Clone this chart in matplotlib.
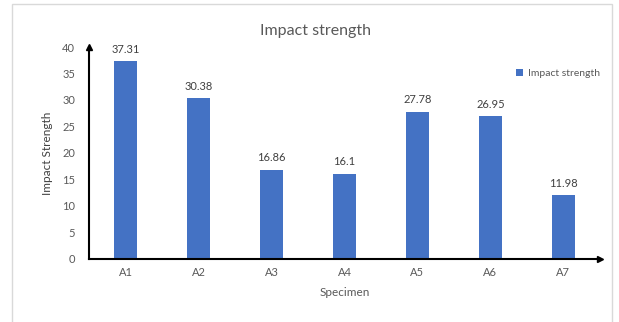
import matplotlib.pyplot as plt
from matplotlib.patches import Rectangle

# impact test results per specimen
specimens = ["A1", "A2", "A3", "A4", "A5", "A6", "A7"]
impact = [37.31, 30.38, 16.86, 16.1, 27.78, 26.95, 11.98]
value_labels = ["37.31", "30.38", "16.86", "16.1", "27.78", "26.95", "11.98"]
yticks = [0, 5, 10, 15, 20, 25, 30, 35, 40]

plt.rcParams['font.family'] = ['Lato', 'DejaVu Sans']
grey = "#595959"

fig = plt.figure(figsize=(6.19, 3.22), dpi=100)
ax = fig.add_axes([0.144, 0.196, 0.825, 0.658])

# light frame around the chart area
fig.patches.append(Rectangle((12 / 619, -0.01), 600 / 619, 1 - 4 / 322 + 0.01,
                             transform=fig.transFigure, fill=False,
                             edgecolor="#d9d9d9", linewidth=1))

x = range(len(specimens))
bars = ax.bar(x, impact, width=0.32, color="#4472C4", label="Impact strength")
for b, txt in zip(bars, value_labels):
    ax.text(b.get_x() + b.get_width() / 2, b.get_height() + 1.2, txt,
            ha="center", va="bottom", fontsize=8, color="#404040")

ax.set_xlim(-0.5, 6.5)
ax.set_ylim(0, 40)
ax.set_xticks(list(x))
ax.set_xticklabels(specimens)
ax.set_yticks(yticks)
ax.tick_params(axis="both", length=0, labelsize=8, labelcolor=grey)
ax.tick_params(axis="y", pad=10)
ax.tick_params(axis="x", pad=6)

for s in ["top", "right"]:
    ax.spines[s].set_visible(False)
for s in ["left", "bottom"]:
    ax.spines[s].set_linewidth(1.5)
    ax.spines[s].set_color("black")

# arrow heads on the axes
ax.plot(1, 0, ">k", markersize=5, transform=ax.transAxes, clip_on=False)
ax.plot(0, 1, "^k", markersize=5, transform=ax.transAxes, clip_on=False)

ax.set_xlabel("Specimen", fontsize=8.5, color=grey, labelpad=6)
ax.set_ylabel("Impact Strength", fontsize=8.5, color="#404040", labelpad=7)
fig.text(0.51, 0.905, "Impact strength", ha="center", va="center",
         fontsize=11.5, color=grey)

ax.legend(loc="upper right", bbox_to_anchor=(1.018, 0.94), frameon=False,
          fontsize=7.5, handlelength=0.7, handleheight=0.7, handletextpad=0.4,
          labelcolor=grey)

fig.savefig("out.png", dpi=100)
